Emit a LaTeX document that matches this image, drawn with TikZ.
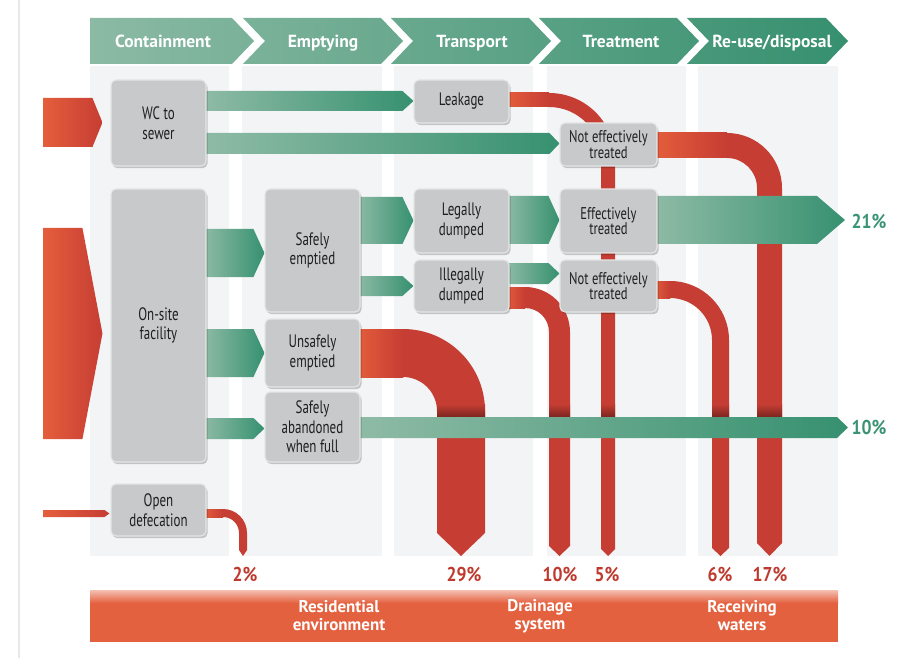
\documentclass[tikz,border=0pt]{standalone}
\usepackage{fontspec}
\usetikzlibrary{calc}
\newfontfamily\boxf[FakeStretch=0.72]{PT Sans}
\newfontfamily\tboxf[FakeStretch=0.74]{PT Sans}
\newfontfamily\hdrf{PT Sans}
\newfontfamily\pctf[FakeStretch=0.88]{PT Sans}
\definecolor{hl}{HTML}{8CBAA4}
\definecolor{hd}{HTML}{36906F}
\definecolor{panel}{HTML}{F3F4F6}
\definecolor{boxg}{HTML}{C8C9CB}
\definecolor{gl}{HTML}{8FBBA6}
\definecolor{gd}{HTML}{369170}
\definecolor{ro}{HTML}{E45E3C}
\definecolor{rc}{HTML}{C63D33}
\definecolor{pr}{HTML}{BF3A2E}
\definecolor{pg}{HTML}{3A9474}
\definecolor{band}{HTML}{E4613F}
\pgfdeclarelayer{bg}
\pgfdeclarelayer{red}
\pgfdeclarelayer{green}
\pgfsetlayers{bg,red,green,main}
% red flow: src node, top y, width, arc centre x, outer radius, tip start y, tip y
\newcommand\rflow[7]{%
 \pgfmathsetmacro\rfA{#4+#5}%
 \pgfmathsetmacro\rfB{#4+#5-#3}%
 \pgfmathsetmacro\rfC{#4+#5-#3/2}%
 \fill[rc] let \p1=(#1.east) in ({\x1-4},-#2) -- (#4,-#2) arc[start angle=90,end angle=0,radius=#5pt] -- (\rfA,-#6) -- (\rfC,-#7) -- (\rfB,-#6) -- (\rfB,{-(#2+#5)}) arc[start angle=0,end angle=90,radius={(#5-#3)*1pt}] -- ({\x1-4},{-(#2+#3)}) -- cycle;
 \shade[left color=ro,right color=rc] let \p1=(#1.east) in ({\x1-4},-#2) rectangle (#4,{-(#2+#3)});
}
% green arrow: from, to, centre y, half width, tip depth
\newcommand\garrow[5]{%
 \shade[left color=gl,right color=gd] let \p1=(#1), \p2=(#2) in ({\x1-4},{-#3+#4}) -- ({\x2-#5},{-#3+#4}) -- (\x2,-#3) -- ({\x2-#5},{-#3-#4}) -- ({\x1-4},{-#3-#4}) -- cycle;
}
\begin{document}
\begin{tikzpicture}[x=1pt,y=1pt,
  box/.style={draw=white!90!black, line width=1.1pt, fill=boxg, rounded corners=5pt, inner sep=0pt, align=center, text=black!88,
    font=\boxf\fontsize{18pt}{19.5pt}\selectfont,
    preaction={fill=black, opacity=0.2, transform canvas={shift={(1.5pt,-2.2pt)}}}},
  tbox/.style={box, font=\tboxf\fontsize{17pt}{15.5pt}\selectfont},
  hdr/.style={text=white, anchor=base, font=\hdrf\bfseries\fontsize{17.5pt}{18pt}\selectfont},
  blab/.style={text=white, align=center, font=\hdrf\bfseries\fontsize{17pt}{18pt}\selectfont},
  pct/.style={font=\pctf\bfseries\fontsize{20pt}{20pt}\selectfont},
]
\useasboundingbox (0,0) rectangle (914,-658);
\begin{pgfonlayer}{bg}
\fill[white] (0,0) rectangle (914,-658);
\draw[black!9, line width=1.3pt] (19,0) -- (19,-658);
% column panels
\fill[panel] (90,-66) rectangle (229,-556);
\fill[panel] (242,-66) rectangle (382,-556);
\fill[panel] (394,-66) rectangle (533,-556);
\fill[panel] (547,-66) rectangle (686,-556);
\fill[panel] (698,-66) rectangle (838,-556);
\end{pgfonlayer}

% header
\shade[left color=hl, right color=hd!22!hl] (90,-18) -- (232,-18) -- (254,-41) -- (232,-64) -- (90,-64) -- cycle;
\shade[left color=hd!20!hl, right color=hd!41!hl] (243,-18) -- (381,-18) -- (403,-41) -- (381,-64) -- (243,-64) -- (265,-41) -- cycle;
\shade[left color=hd!40!hl, right color=hd!61!hl] (391,-18) -- (529,-18) -- (551,-41) -- (529,-64) -- (391,-64) -- (413,-41) -- cycle;
\shade[left color=hd!59!hl, right color=hd!80!hl] (539,-18) -- (677,-18) -- (699,-41) -- (677,-64) -- (539,-64) -- (561,-41) -- cycle;
\shade[left color=hd!79!hl, right color=hd] (687,-18) -- (826,-18) -- (848,-41) -- (826,-64) -- (687,-64) -- (709,-41) -- cycle;
\node[hdr] (h1) at (163,-47.5) {Containment};
\node[hdr] (h2) at (323,-47.5) {Emptying};
\node[hdr] (h3) at (472,-47.5) {Transport};
\node[hdr] (h4) at (621,-47.5) {Treatment};
\node[hdr] (h5) at (772,-47.5) {Re-use/disposal};

% bottom band
\fill[band] (90,-590) rectangle (838,-642);
\shade[top color=band!40!white, bottom color=band] (90,-590) rectangle (838,-603);
\node[blab] (b1) at (339,-616) {Residential\\environment};
\node[blab] (b2) at (540,-616) {Drainage\\system};
\node[blab] (b3) at (742,-616) {Receiving\\waters};

% boxes
\node[box, minimum width=95pt, minimum height=86pt] (wc) at (158.5,-123) {WC to\\sewer};
\node[box, minimum width=95pt, minimum height=273pt] (os) at (158.5,-325.5) {On-site\\facility};
\node[box, minimum width=95pt, minimum height=52pt] (od) at (158.5,-510) {Open\\defecation};
\node[box, minimum width=95pt, minimum height=123pt] (se) at (312.5,-250.5) {Safely\\emptied};
\node[box, minimum width=95pt, minimum height=68pt] (ue) at (312.5,-353) {Unsafely\\emptied};
\node[box, minimum width=95pt, minimum height=70pt] (sa) at (312.5,-427) {Safely\\abandoned\\when full};
\node[box, minimum width=95pt, minimum height=43pt] (lk) at (461.5,-101.5) {Leakage};
\node[box, minimum width=95pt, minimum height=64pt] (ld) at (461.5,-221) {Legally\\dumped};
\node[box, minimum width=95pt, minimum height=52pt] (id) at (461.5,-286) {Illegally\\dumped};
\node[tbox, minimum width=97pt, minimum height=43pt] (n1) at (608.5,-144.5) {Not effectively\\treated};
\node[tbox, minimum width=97pt, minimum height=64pt] (et) at (608.5,-221) {Effectively\\treated};
\node[tbox, minimum width=97pt, minimum height=52pt] (n2) at (608.5,-286) {Not effectively\\treated};

\coordinate (e21) at (845,-220);
\coordinate (e10) at (848,-427.5);
\coordinate (in1) at (43,-122.5);
\coordinate (in2) at (43,-333.5);
\coordinate (in3) at (43,-513.5);

% red flows
\begin{pgfonlayer}{red}
\shade[left color=ro, right color=rc] let \p2=(wc.west) in (in1) ++(0,24.5) -- ({\x2-18},-98) -- ({\x2-8},-122.5) -- ({\x2-18},-147) -- (43,-147) -- cycle;
\shade[left color=ro, right color=rc] let \p2=(os.west) in (in2) ++(0,105.5) -- ({\x2-28},-228) -- ({\x2-8},-333.5) -- ({\x2-28},-439) -- (43,-439) -- cycle;
\shade[left color=ro, right color=rc] let \p2=(od.west) in (in3) ++(0,3.5) -- ({\x2-6},-510) -- ({\x2-1},-513.5) -- ({\x2-6},-517) -- (43,-517) -- cycle;
\rflow{od}{509}{8}{223}{24}{550}{556}
\rflow{lk}{93}{14}{549}{66}{549}{556}
\rflow{ue}{329}{48}{403}{82}{533}{556}
\rflow{id}{287}{21}{525}{45}{546}{556}
\rflow{n2}{281}{17}{670}{59}{548}{556}
\rflow{n1}{133}{25}{727}{55}{543}{556}
\foreach \a/\b in {437/485,549/570,601/615,712/729,757/782}
  \shade[top color=rc, bottom color=rc!62!black] (\a,-404) rectangle (\b,-417);
\end{pgfonlayer}

% green flows
\begin{pgfonlayer}{green}
\garrow{wc.east}{lk.west}{101}{10}{11}
\garrow{wc.east}{n1.west}{143.5}{10.5}{10}
\garrow{os.east}{se.west}{253}{24}{11}
\garrow{os.east}{ue.west}{353}{24}{11}
\garrow{os.east}{sa.west}{428.5}{10.5}{11}
\garrow{se.east}{ld.west}{220.5}{23.5}{11}
\garrow{se.east}{id.west}{286}{10}{11}
\garrow{ld.east}{et.west}{220}{24}{11}
\garrow{id.east}{n2.west}{273.5}{10.5}{11}
\garrow{et.east}{e21}{220}{24}{28}
\garrow{sa.east}{e10}{427.5}{10.5}{11}
\end{pgfonlayer}

% percentages
\node[pct, text=pr] (p2) at (245,-574) {2\%};
\node[pct, text=pr] (p29) at (464,-574) {29\%};
\node[pct, text=pr] (p10) at (560,-574) {10\%};
\node[pct, text=pr] (p5) at (607,-574) {5\%};
\node[pct, text=pr] (p6) at (720,-574) {6\%};
\node[pct, text=pr] (p17) at (770,-574) {17\%};
\node[pct, text=pg] (p21) at (869,-222) {21\%};
\node[pct, text=pg] (p10g) at (869,-427) {10\%};
\end{tikzpicture}
\end{document}
